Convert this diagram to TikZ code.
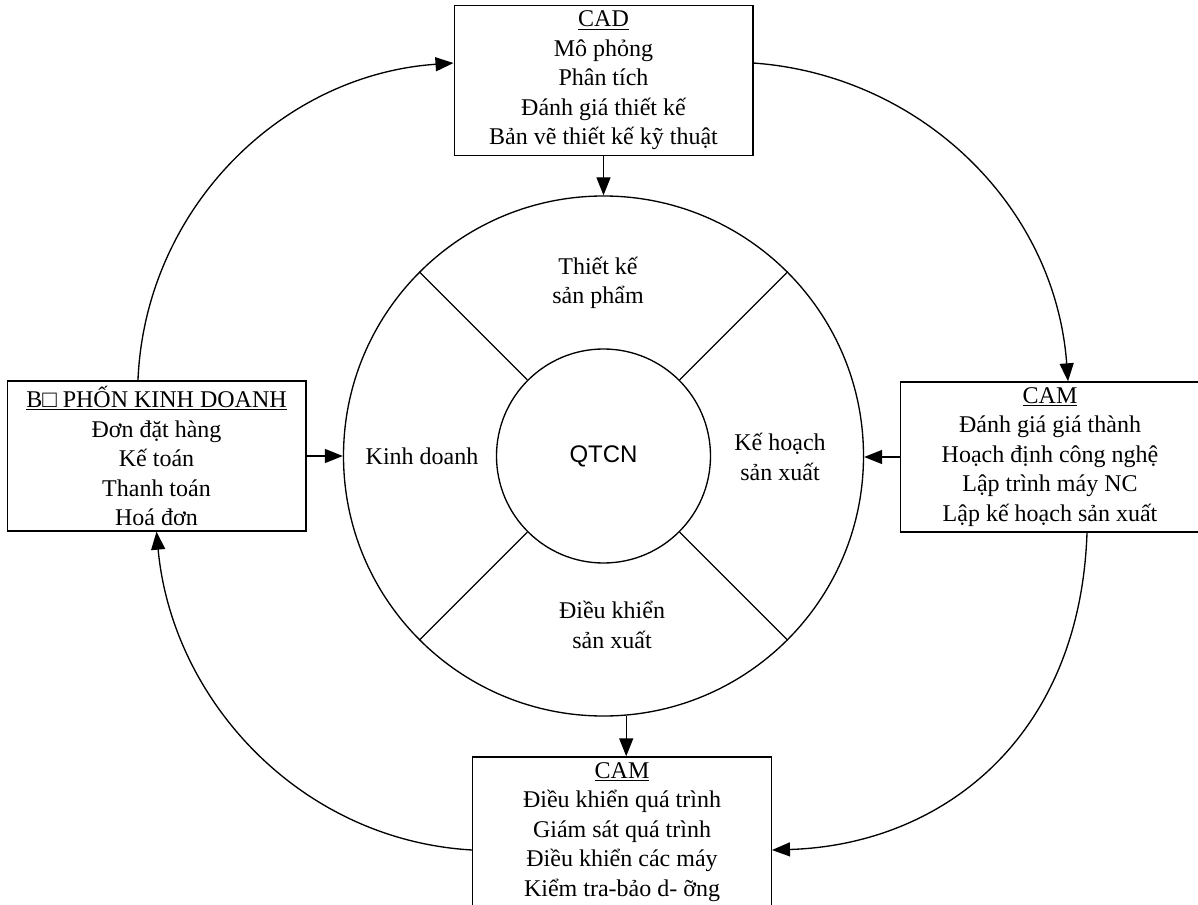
\documentclass[tikz,border=0pt]{standalone}
\usepackage{fontspec}
\setmainfont{Liberation Serif}
\newfontfamily\arialfont{Liberation Sans}
\usetikzlibrary{arrows.meta}
\begin{document}
\begin{tikzpicture}[x=0.75pt,y=-0.75pt,
  every node/.style={font=\fontsize{18}{22.1}\selectfont},
  infobox/.style={draw,line width=1pt,minimum width=224pt,minimum height=112.5pt,inner sep=0pt,align=center},
  ring/.style={draw,circle,line width=1pt,inner sep=0pt},
  sector/.style={align=center},
  divider/.style={line width=1pt},
  link/.style={line width=1pt,-{Triangle[length=13.5pt,width=10.5pt]}}
]
\useasboundingbox (0,0) rectangle (1198,905);

% central wheel
\node[ring,minimum size=390pt] (outer) at (603.5,456) {};
\node[ring,minimum size=160.5pt,font=\arialfont\fontsize{18}{22}\selectfont] (core) at (603.5,456) {QTCN};
\foreach \a in {45,135,-135,-45}
  \draw[divider] (core.\a) -- (outer.\a);

\node[sector] (design) at (598,283) {Thiết kế\\sản phẩm};
\node[sector] (sales) at (422,456) {Kinh doanh};
\node[sector] (plan) at (780,457) {Kế hoạch\\sản xuất};
\node[sector] (ctrl) at (612,625) {Điều khiển\\sản xuất};

% surrounding blocks
\node[infobox] (cad) at (603.5,80.5) {\underline{CAD}\\Mô phỏng\\Phân tích\\Đánh giá thiết kế\\Bản vẽ thiết kế kỹ thuật};
\node[infobox] (kd) at (156.5,456) {\underline{B□ PHỐN KINH DOANH}\\Đơn đặt hàng\\Kế toán\\Thanh toán\\Hoá đơn};
\node[infobox] (cama) at (1050,457) {\underline{CAM}\\Đánh giá giá thành\\Hoạch định công nghệ\\Lập trình máy NC\\Lập kế hoạch sản xuất};
\node[infobox] (camb) at (622,832) {\underline{CAM}\\Điều khiển quá trình\\Giám sát quá trình\\Điều khiển các máy\\Kiểm tra-bảo d- ỡng};

% straight links into the wheel
\draw[link] (cad.south) -- (outer.north);
\draw[link] (kd.east) -- (outer.west);
\draw[link] (cama.west) -- (cama.west -| outer.east);
\draw[link] (outer.-85.8) -- (outer.-85.8 |- camb.north);

% outer cycle
\draw[link] ([xshift=-13.9pt]kd.north) .. controls (145,210) and (280,75) .. ([yshift=13.1pt]cad.west);
\draw[link] ([yshift=13.1pt]cad.east) .. controls (920,75) and (1055,205) .. ([xshift=13.5pt]cama.north);
\draw[link] ([xshift=27.75pt]cama.south) .. controls (1080,740) and (940,845) .. ([yshift=-13.5pt]camb.east);
\draw[link] ([yshift=-13.5pt]camb.west) .. controls (300,840) and (172,700) .. (kd.south);
\end{tikzpicture}
\end{document}
